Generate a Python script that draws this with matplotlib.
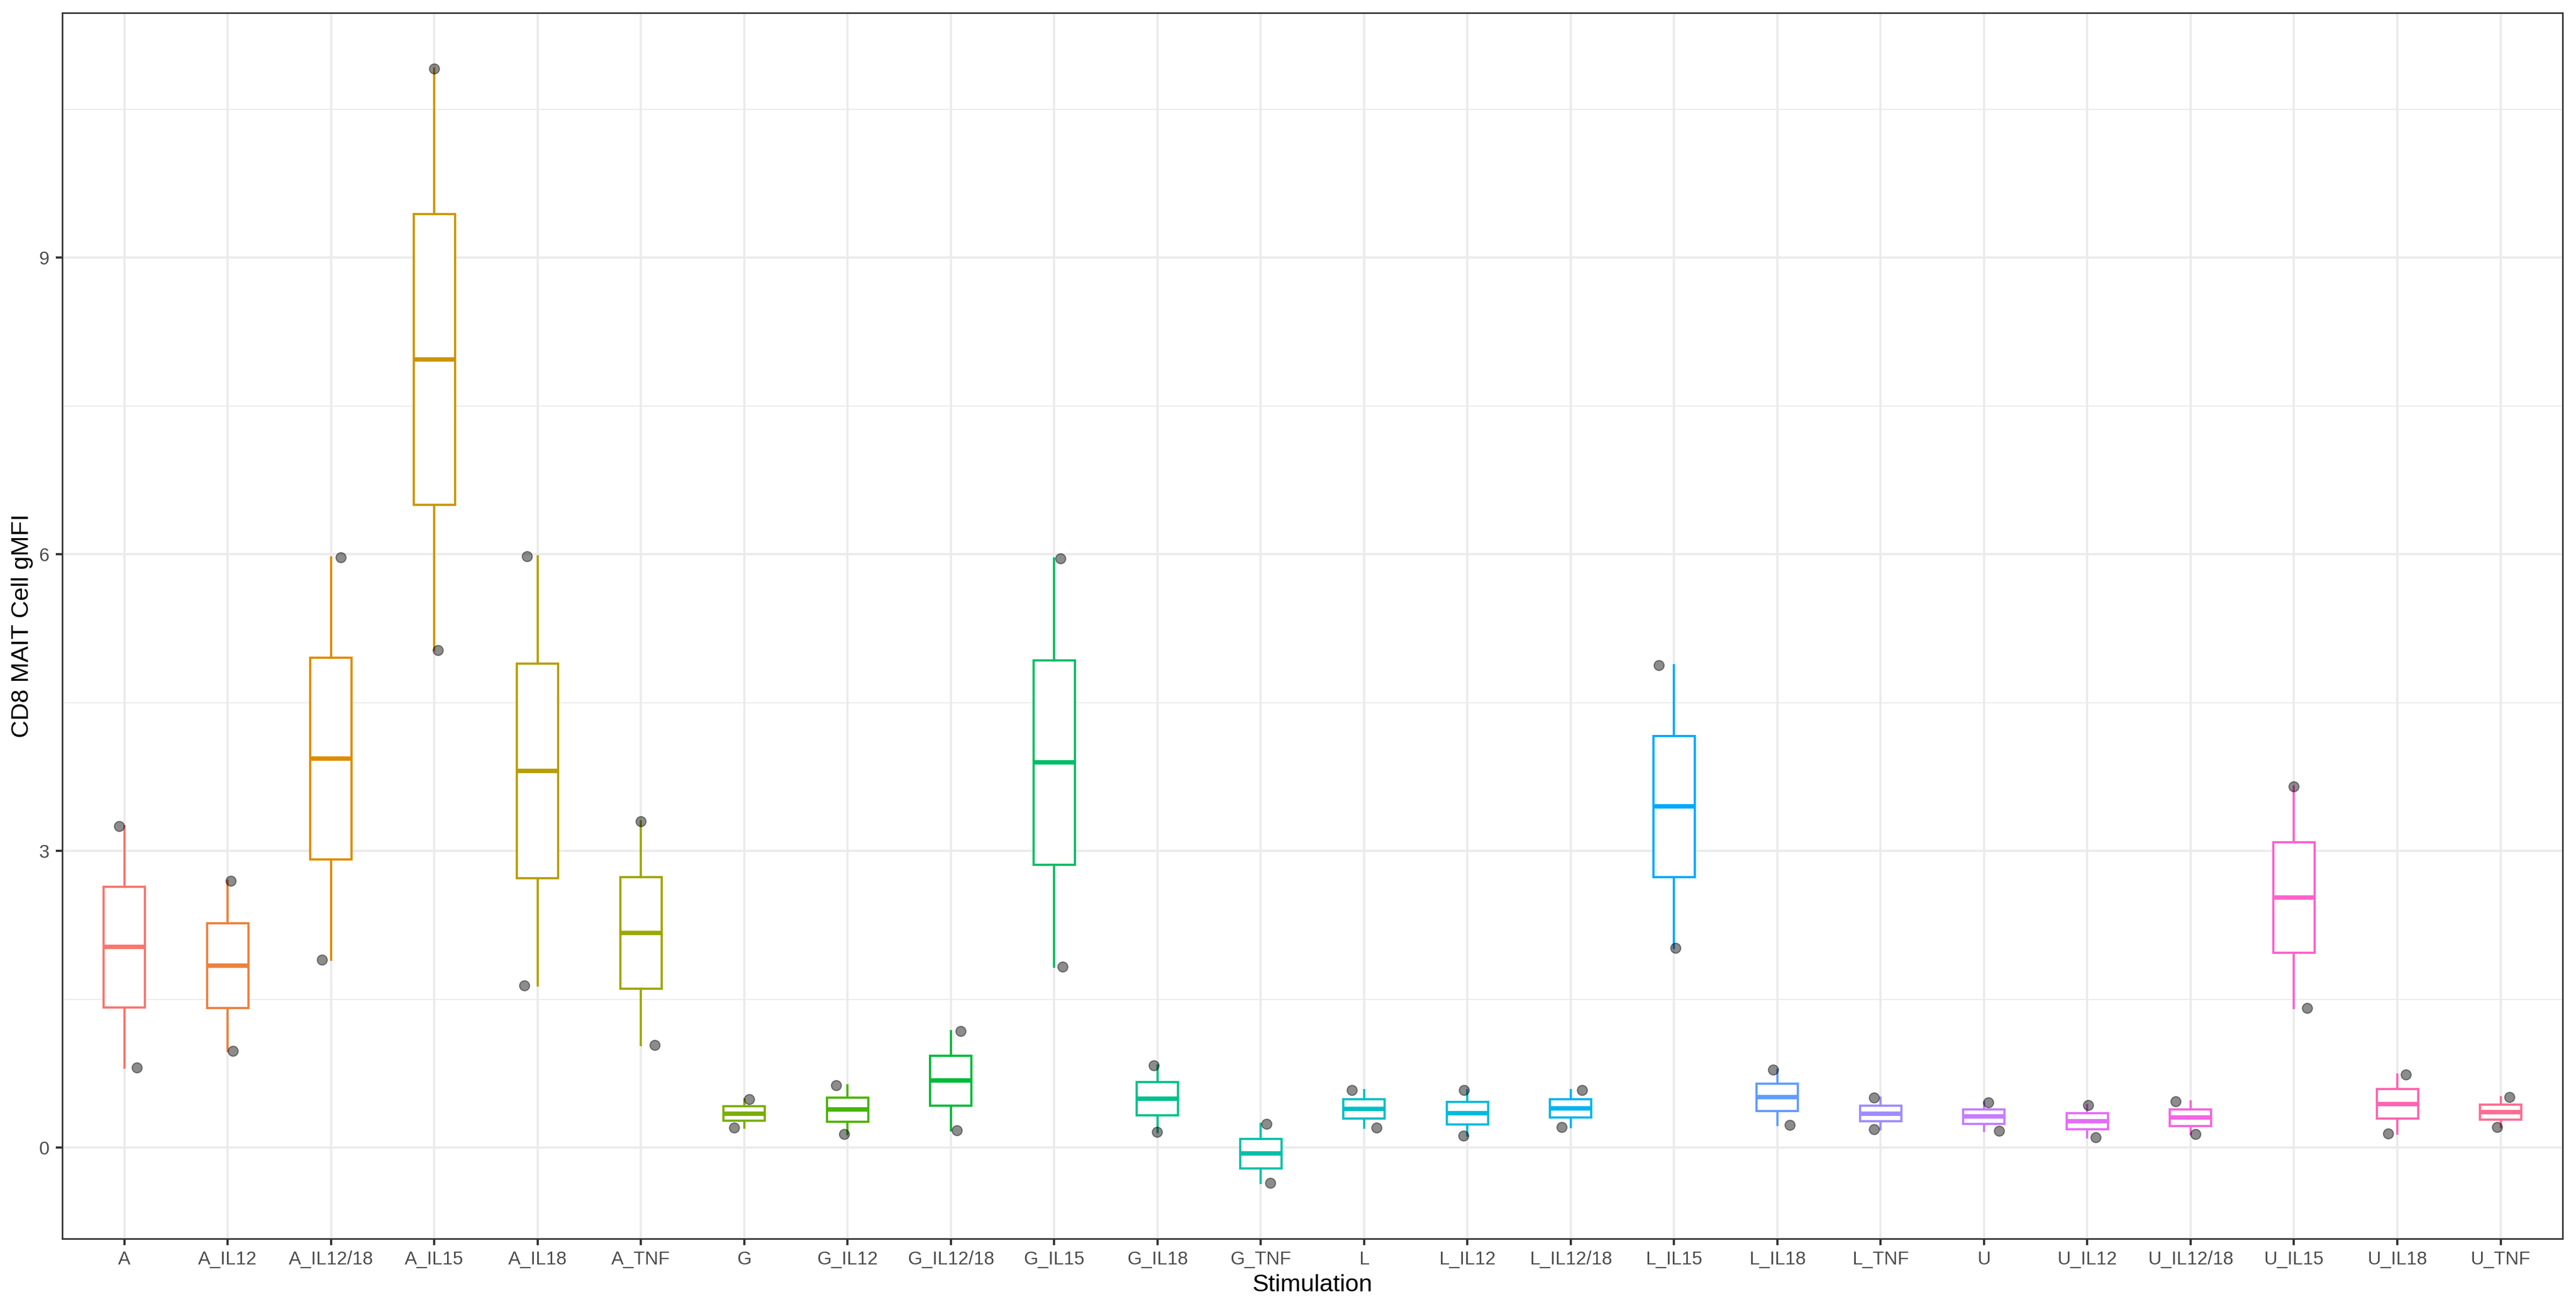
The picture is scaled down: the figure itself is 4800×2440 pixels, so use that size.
import numpy as np
import matplotlib.pyplot as plt
from matplotlib.ticker import FixedLocator

# CD8 MAIT cell gMFI, two measurements per stimulation
stimulation = ['A', 'A_IL12', 'A_IL12/18', 'A_IL15', 'A_IL18', 'A_TNF',
               'G', 'G_IL12', 'G_IL12/18', 'G_IL15', 'G_IL18', 'G_TNF',
               'L', 'L_IL12', 'L_IL12/18', 'L_IL15', 'L_IL18', 'L_TNF',
               'U', 'U_IL12', 'U_IL12/18', 'U_IL15', 'U_IL18', 'U_TNF']
gmfi_high = [3.25, 2.70, 5.97, 10.91, 5.98, 3.30,
             0.49, 0.63, 1.18, 5.96, 0.83, 0.24,
             0.585, 0.58, 0.585, 4.88, 0.79, 0.505,
             0.46, 0.43, 0.47, 3.65, 0.74, 0.51]
gmfi_low = [0.81, 0.98, 1.90, 5.03, 1.64, 1.04,
            0.20, 0.14, 0.175, 1.83, 0.16, -0.357,
            0.20, 0.12, 0.21, 2.02, 0.23, 0.186,
            0.17, 0.106, 0.138, 1.41, 0.143, 0.21]

# horizontal jitter of the points as seen in the picture
jitter_high = [-0.05, 0.03, 0.095, 0.0, -0.10, 0.0,
               0.05, -0.11, 0.095, 0.06, -0.035, 0.055,
               -0.12, -0.035, 0.11, -0.145, -0.04, -0.065,
               0.04, 0.01, -0.145, 0.0, 0.085, 0.085]
jitter_low = [0.12, 0.05, -0.085, 0.035, -0.13, 0.135,
              -0.095, -0.035, 0.06, 0.08, -0.005, 0.09,
              0.12, -0.04, -0.09, 0.015, 0.12, -0.065,
              0.145, 0.08, 0.045, 0.125, -0.09, -0.035]


def hue_pal(n, c=100, l=65):
    # ggplot2 default discrete palette (hcl colours)
    hues = np.linspace(15, 375, n + 1)[:n]
    xn, yn, zn = 95.047, 100.0, 108.883
    un = 4 * xn / (xn + 15 * yn + 3 * zn)
    vn = 9 * yn / (xn + 15 * yn + 3 * zn)
    out = []
    for h in hues:
        u = c * np.cos(np.radians(h))
        v = c * np.sin(np.radians(h))
        Y = yn * ((l + 16) / 116) ** 3
        up = u / (13 * l) + un
        vp = v / (13 * l) + vn
        X = 9.0 * Y * up / (4 * vp)
        Z = -X / 3 - 5 * Y + 3 * Y / vp
        xyz = np.array([X, Y, Z]) / 100
        m = np.array([[3.240479, -1.537150, -0.498535],
                      [-0.969256, 1.875992, 0.041556],
                      [0.055648, -0.204043, 1.057311]])
        rgb = m @ xyz
        rgb = np.where(rgb > 0.00304, 1.055 * np.power(np.clip(rgb, 0, None), 1 / 2.4) - 0.055, 12.92 * rgb)
        out.append(tuple(np.clip(rgb, 0, 1)))
    return out


colors = hue_pal(len(stimulation))
plt.rcParams['font.family'] = ['Liberation Sans', 'DejaVu Sans']

fig = plt.figure(figsize=(16, 2440 / 300), dpi=300)
ax = fig.add_axes([0.0242, 0.0537, 0.9706, 0.9365])

pos = np.arange(1, len(stimulation) + 1)

# grid
for yv in [1.5, 4.5, 7.5, 10.5]:
    ax.axhline(yv, color='#EBEBEB', lw=0.5, zorder=0)
for yv in [0, 3, 6, 9]:
    ax.axhline(yv, color='#EBEBEB', lw=1.0, zorder=0)
for xv in pos:
    ax.axvline(xv, color='#EBEBEB', lw=1.0, zorder=0)

for i, name in enumerate(stimulation):
    vals = [gmfi_high[i], gmfi_low[i]]
    col = colors[i]
    ax.boxplot([vals], positions=[pos[i]], widths=0.4, showfliers=False,
               showcaps=False, patch_artist=True,
               boxprops=dict(facecolor='white', edgecolor=col, linewidth=1.0),
               whiskerprops=dict(color=col, linewidth=1.0),
               medianprops=dict(color=col, linewidth=2.0, solid_capstyle='butt'),
               zorder=2)

ax.scatter(pos + np.array(jitter_high), gmfi_high, s=20, color='black', alpha=0.45,
           linewidths=0.5, edgecolors='black', zorder=3)
ax.scatter(pos + np.array(jitter_low), gmfi_low, s=20, color='black', alpha=0.45,
           linewidths=0.5, edgecolors='black', zorder=3)

ax.set_xlim(0.4, len(stimulation) + 0.6)
ax.set_ylim(-0.92, 11.475)
ax.set_xticks(pos)
ax.set_xticklabels(stimulation)
ax.yaxis.set_major_locator(FixedLocator([0, 3, 6, 9]))
ax.set_yticklabels(['0', '3', '6', '9'])

ax.tick_params(axis='both', length=2.8, width=1.0, color='#333333',
               labelcolor='#4D4D4D', labelsize=8.3)
ax.tick_params(axis='x', pad=2.6)
ax.tick_params(axis='y', pad=3.0)
for sp in ax.spines.values():
    sp.set_color('#333333')
    sp.set_linewidth(0.7)

ax.set_xlabel('Stimulation', fontsize=10.9, color='black', labelpad=2.5)
ax.set_ylabel('CD8 MAIT Cell gMFI', fontsize=10.9, color='black', labelpad=2.5)

fig.savefig('out.png', dpi=300, facecolor='white')
